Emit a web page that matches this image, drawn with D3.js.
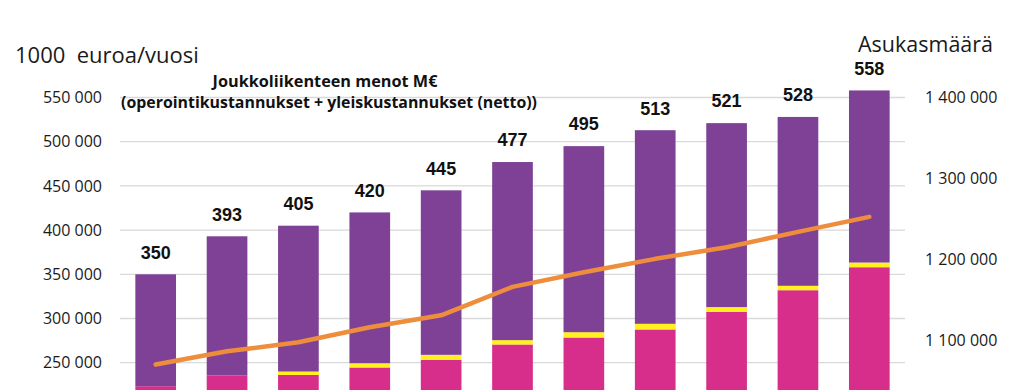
<!DOCTYPE html>
<html>
<head>
<meta charset="utf-8">
<script src="https://cdn.jsdelivr.net/npm/d3@7"></script>
<style>
  html, body { margin: 0; padding: 0; background: #fff; overflow: hidden; }
  svg { display: block; }
  text { white-space: pre; }
</style>
</head>
<body>
<svg id="chart" width="1024" height="390"></svg>
<script>
// ---- Data ----
const categories = ["2020","2021","2022","2023","2024","2025","2026","2027","2028","2029","2030"];
// stacked segments, 1000 euroa/vuosi
const pinkSeries   = [223400, 235500, 236100, 244600, 253300, 270600, 278500, 287600, 307600, 332000, 358000];
const yellowSeries = [0, 0, 3900, 4800, 5600, 4900, 6000, 6400, 5300, 5000, 5300];
const purpleSeries = [126600, 157500, 165000, 170600, 186100, 201500, 210500, 219000, 208100, 191000, 194700];
// totals shown as labels, M€
const totalLabels  = [350, 393, 405, 420, 445, 477, 495, 513, 521, 528, 558];
// population (Asukasmäärä), right axis
const population   = [1070400, 1086800, 1097900, 1116400, 1131200, 1166300, 1184300, 1200900, 1215200, 1234200, 1252700];
// tick labels visible in the picture
const leftTicks  = [250000, 300000, 350000, 400000, 450000, 500000, 550000];
const rightTicks = [1100000, 1200000, 1300000, 1400000];
// full axis extents (chart continues below the visible crop)
const leftDomain  = [0, 550000];
const rightDomain = [800000, 1400000];

// ---- Layout ----
const svg = d3.select("#chart");
const plot = { left: 120, right: 905, top: 97.5, bottom: 583.7 };
const colors = { pink: "#D62E8A", yellow: "#FFF01E", purple: "#7E4196", line: "#EE8D3C", grid: "#D9D9D9" };

const x = d3.scaleBand().domain(categories).range([plot.left, plot.right]).paddingInner(0.43).paddingOuter(0.215);
const yL = d3.scaleLinear().domain(leftDomain).range([plot.bottom, plot.top]);
const yR = d3.scaleLinear().domain(rightDomain).range([plot.bottom, plot.top]);

const fmt = d3.formatLocale({ decimal: ",", thousands: " ", grouping: [3], currency: ["", " €"] }).format(",d");

// gridlines
svg.append("g").selectAll("line").data(leftTicks).join("line")
  .attr("x1", plot.left).attr("x2", plot.right)
  .attr("y1", d => yL(d)).attr("y2", d => yL(d))
  .attr("stroke", colors.grid).attr("stroke-width", 1.3);

// left axis
const leftAxis = d3.axisLeft(yL).tickValues(leftTicks).tickFormat(fmt).tickSize(0).tickPadding(18);
const gL = svg.append("g").attr("transform", `translate(${plot.left},0)`).call(leftAxis);
gL.select(".domain").remove();
gL.selectAll("text").attr("font-family", "'Open Sans', sans-serif").attr("font-size", 16).attr("fill", "#1a1a1a");

// right axis
const rightAxis = d3.axisRight(yR).tickValues(rightTicks).tickFormat(fmt).tickSize(0).tickPadding(20);
const gR = svg.append("g").attr("transform", `translate(${plot.right},0)`).call(rightAxis);
gR.select(".domain").remove();
gR.selectAll("text").attr("font-family", "'Open Sans', sans-serif").attr("font-size", 16).attr("fill", "#1a1a1a");

// stacked bars
const rows = categories.map((c, i) => ({ cat: c, pink: pinkSeries[i], yellow: yellowSeries[i], purple: purpleSeries[i] }));
const stack = d3.stack().keys(["pink", "yellow", "purple"])(rows);
svg.append("g").selectAll("g").data(stack).join("g")
  .attr("fill", d => colors[d.key])
  .selectAll("rect").data(d => d).join("rect")
  .attr("x", d => x(d.data.cat))
  .attr("width", x.bandwidth())
  .attr("y", d => yL(d[1]))
  .attr("height", d => Math.max(0, yL(d[0]) - yL(d[1])));

// population line
const line = d3.line().x((d, i) => x(categories[i]) + x.bandwidth() / 2).y(d => yR(d));
svg.append("path").datum(population)
  .attr("d", line).attr("fill", "none")
  .attr("stroke", colors.line).attr("stroke-width", 4.5)
  .attr("stroke-linejoin", "round").attr("stroke-linecap", "round");

// total labels
svg.append("g").selectAll("text").data(totalLabels).join("text")
  .attr("x", (d, i) => x(categories[i]) + x.bandwidth() / 2)
  .attr("y", d => yL(d * 1000) - 22)
  .attr("dy", "0.35em")
  .attr("text-anchor", "middle")
  .attr("font-family", "'Liberation Sans', Arial, sans-serif")
  .attr("font-weight", "bold").attr("font-size", 18).attr("fill", "#111")
  .text(d => d);

// axis titles
svg.append("text").attr("x", 15).attr("y", 63)
  .attr("font-family", "'Open Sans', sans-serif").attr("font-size", 22).attr("fill", "#1a1a1a")
  .text("1000  euroa/vuosi");
svg.append("text").attr("x", 858).attr("y", 52)
  .attr("font-family", "'Open Sans', sans-serif").attr("font-size", 22).attr("fill", "#1a1a1a")
  .attr("textLength", 135).attr("lengthAdjust", "spacingAndGlyphs")
  .text("Asukasmäärä");

// chart title
const title = svg.append("g").attr("font-family", "'Open Sans', sans-serif").attr("font-weight", "bold").attr("fill", "#111").attr("text-anchor", "middle");
title.append("text").attr("x", 325).attr("y", 86.5).attr("font-size", 15.5)
  .attr("textLength", 225).attr("lengthAdjust", "spacingAndGlyphs")
  .text("Joukkoliikenteen menot M€");
title.append("text").attr("x", 329).attr("y", 108).attr("font-size", 15.5)
  .attr("textLength", 416).attr("lengthAdjust", "spacingAndGlyphs")
  .text("(operointikustannukset + yleiskustannukset (netto))");
</script>
</body>
</html>
